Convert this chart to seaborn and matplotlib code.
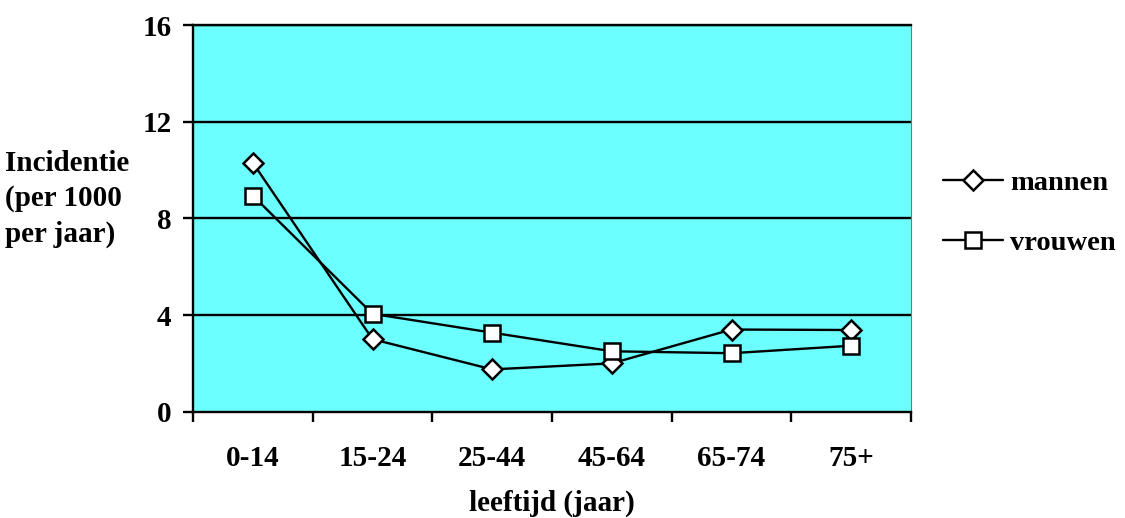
import numpy as np
import pandas as pd
import matplotlib
matplotlib.use("Agg")
import matplotlib.pyplot as plt
from matplotlib.lines import Line2D
import seaborn as sns

# Incidence per 1000 per year by age group
age_groups = ["0-14", "15-24", "25-44", "45-64", "65-74", "75+"]
mannen = [10.3, 3.0, 1.75, 2.0, 3.4, 3.38]
vrouwen = [8.94, 4.05, 3.27, 2.5, 2.42, 2.73]
y_ticks = [0, 4, 8, 12, 16]

sns.set_theme(style="white")
plt.rcParams["font.family"] = ["Liberation Serif", "DejaVu Serif"]
plt.rcParams["font.weight"] = "bold"
plt.rcParams["text.color"] = "black"
plt.rcParams["axes.labelcolor"] = "black"
plt.rcParams["xtick.color"] = "black"
plt.rcParams["ytick.color"] = "black"
FS = 21
LW = 1.7

pos = np.arange(len(age_groups))
df = pd.DataFrame({
    "pos": np.concatenate([pos, pos]),
    "value": mannen + vrouwen,
    "geslacht": ["mannen"] * len(pos) + ["vrouwen"] * len(pos),
})

fig = plt.figure(figsize=(11.25, 5.18), dpi=100)
ax = fig.add_axes([193 / 1125, 1 - 411.7 / 518, (911 - 193) / 1125, 386.7 / 518])
ax.set_facecolor("#6cffff")

sns.lineplot(data=df, x="pos", y="value", hue="geslacht", style="geslacht",
             markers={"mannen": "D", "vrouwen": "s"}, dashes=False,
             palette={"mannen": "black", "vrouwen": "black"},
             linewidth=LW, legend=False, ax=ax, zorder=5)

msizes = {0: 10.5, 1: 12}
for i, ln in enumerate(ax.lines):
    ln.set_markerfacecolor("white")
    ln.set_markeredgecolor("black")
    ln.set_markeredgewidth(1.8)
    ln.set_markersize(msizes.get(i, 10.5))
    ln.set_clip_on(False)

ax.set_xlim(-0.5, len(age_groups) - 0.5)
ax.set_ylim(0, 16)

# y axis
ax.set_yticks(y_ticks)
ax.set_yticklabels([str(t) for t in y_ticks], fontsize=FS, fontweight="bold")
ax.tick_params(axis="y", which="major", direction="out", length=7.5, width=LW,
               color="black", labelcolor="black", left=True, pad=8)
for t in y_ticks[1:]:
    ax.axhline(t, color="black", linewidth=LW, zorder=2)

# x axis: ticks at group boundaries, labels at group centres
ax.set_xticks(np.arange(-0.5, len(age_groups), 1.0))
ax.set_xticklabels([])
ax.set_xticks(pos, minor=True)
ax.set_xticklabels(age_groups, minor=True, fontsize=FS, fontweight="bold")
ax.tick_params(axis="x", which="major", direction="out", length=7.5, width=LW,
               color="black", bottom=True)
ax.tick_params(axis="x", which="minor", length=0, pad=24, labelcolor="black")

ax.set_xlabel("leeftijd (jaar)", fontsize=FS, fontweight="bold", color="black")
ax.xaxis.set_label_coords(0.5, -0.236)
ax.xaxis.label.set_verticalalignment("center")
ax.set_ylabel("")

for side in ["left", "bottom", "top"]:
    ax.spines[side].set_color("black")
    ax.spines[side].set_linewidth(LW)
ax.spines["right"].set_color("#777777")
ax.spines["right"].set_linewidth(0.8)

fig.text(5 / 1125, 1 - 199 / 518, "Incidentie\n(per 1000\nper jaar)",
         ha="left", va="center", fontsize=FS, fontweight="bold",
         linespacing=1.38, color="black")

handles = [
    Line2D([], [], color="black", linewidth=LW, marker="D", markersize=10.5,
           markerfacecolor="white", markeredgecolor="black", markeredgewidth=1.8),
    Line2D([], [], color="black", linewidth=LW, marker="s", markersize=12,
           markerfacecolor="white", markeredgecolor="black", markeredgewidth=1.8),
]
leg = fig.legend(handles, ["mannen", "vrouwen"], loc="center left",
                 bbox_to_anchor=(943 / 1125, 1 - 213 / 518), frameon=False,
                 prop={"size": 20.5, "weight": "bold"}, handlelength=2.1,
                 handletextpad=0.25, labelspacing=1.2, borderaxespad=0,
                 borderpad=0)
for txt in leg.get_texts():
    txt.set_color("black")

fig.savefig("out.png", dpi=100)
